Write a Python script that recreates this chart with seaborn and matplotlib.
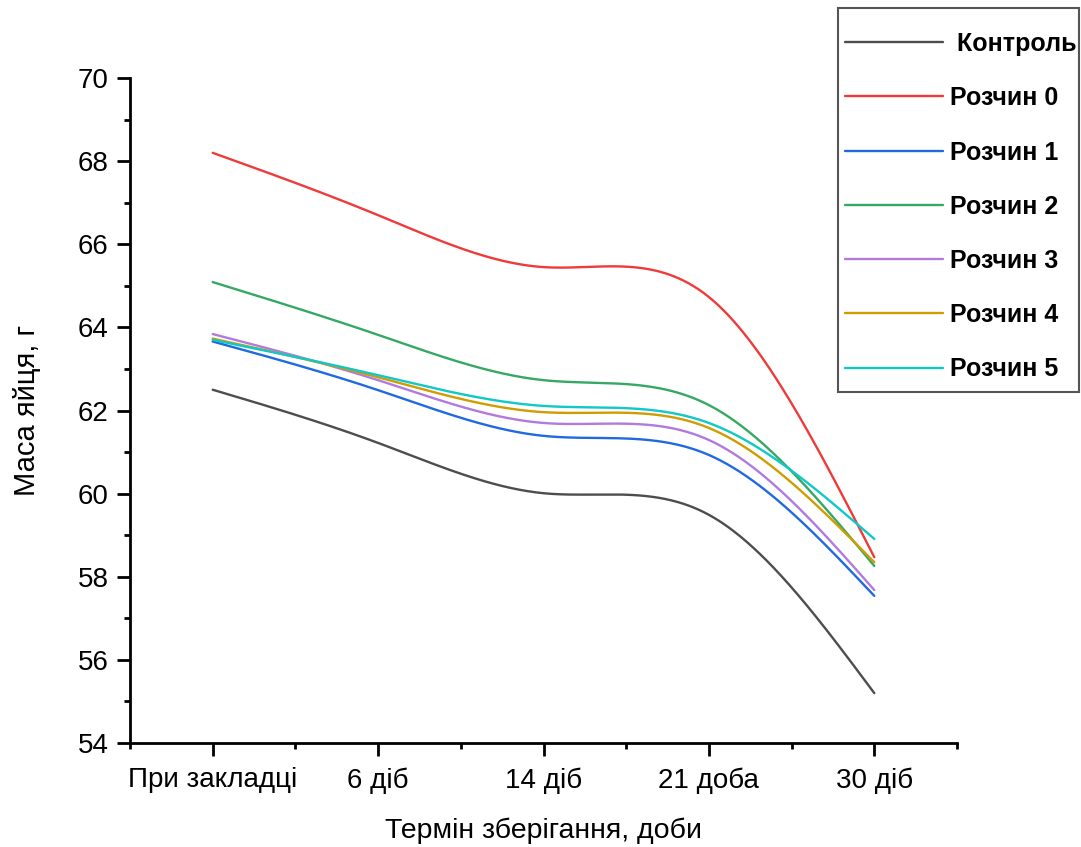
import numpy as np
import pandas as pd
import matplotlib
matplotlib.use("Agg")
import matplotlib.pyplot as plt
import seaborn as sns
from matplotlib.ticker import MultipleLocator
from matplotlib.patches import Rectangle

categories = ["При закладці", "6 діб", "14 діб", "21 доба", "30 діб"]
series_names = ["Контроль", "Розчин 0", "Розчин 1", "Розчин 2", "Розчин 3", "Розчин 4", "Розчин 5"]
control = [62.50, 61.22, 60.01, 59.49, 55.20]
rozchyn0 = [68.20, 66.70, 65.45, 64.73, 58.47]
rozchyn1 = [63.66, 62.49, 61.39, 60.93, 57.54]
rozchyn2 = [65.09, 63.82, 62.73, 62.13, 58.26]
rozchyn3 = [63.84, 62.73, 61.70, 61.29, 57.68]
rozchyn4 = [63.73, 62.80, 61.96, 61.58, 58.35]
rozchyn5 = [63.70, 62.85, 62.11, 61.70, 58.91]
values = [control, rozchyn0, rozchyn1, rozchyn2, rozchyn3, rozchyn4, rozchyn5]
colors = ["#4d4d4d", "#f03a3a", "#1f6ae0", "#35a864", "#b07ae0", "#cf9d00", "#10c8c8"]


def natural_spline(x, y, xs):
    x = np.asarray(x, float)
    y = np.asarray(y, float)
    n = len(x)
    h = np.diff(x)
    A = np.zeros((n, n))
    b = np.zeros(n)
    A[0, 0] = 1
    A[-1, -1] = 1
    for i in range(1, n - 1):
        A[i, i - 1] = h[i - 1]
        A[i, i] = 2 * (h[i - 1] + h[i])
        A[i, i + 1] = h[i]
        b[i] = 6 * ((y[i + 1] - y[i]) / h[i] - (y[i] - y[i - 1]) / h[i - 1])
    M = np.linalg.solve(A, b)
    idx = np.clip(np.searchsorted(x, xs) - 1, 0, n - 2)
    x0, x1 = x[idx], x[idx + 1]
    hh = x1 - x0
    t0 = x1 - xs
    t1 = xs - x0
    return (M[idx] * t0 ** 3 / (6 * hh) + M[idx + 1] * t1 ** 3 / (6 * hh)
            + (y[idx] / hh - M[idx] * hh / 6) * t0
            + (y[idx + 1] / hh - M[idx + 1] * hh / 6) * t1)


xpos = np.arange(len(categories))
xs = np.linspace(0, len(categories) - 1, 400)
frames = []
for name, vals in zip(series_names, values):
    frames.append(pd.DataFrame({"x": xs, "y": natural_spline(xpos, vals, xs), "series": name}))
df = pd.concat(frames, ignore_index=True)

sns.set_style("ticks")
plt.rcParams["font.family"] = ["Liberation Sans", "DejaVu Sans"]
plt.rcParams["text.color"] = "black"
plt.rcParams["axes.labelcolor"] = "black"
plt.rcParams["xtick.color"] = "black"
plt.rcParams["ytick.color"] = "black"

fig = plt.figure(figsize=(10.81, 8.47), dpi=100)
ax = fig.add_axes([130 / 1081, 1 - 743 / 847, (957 - 130) / 1081, (743 - 78) / 847])

sns.lineplot(data=df, x="x", y="y", hue="series", hue_order=series_names,
             palette=colors, linewidth=1.7, ax=ax, legend=False, sort=False)

ax.set_xlim(-0.5, 4.5)
ax.set_ylim(54, 70)
ax.set_xticks(xpos)
ax.set_xticklabels(categories)
ax.xaxis.set_minor_locator(MultipleLocator(0.5))
ax.yaxis.set_major_locator(MultipleLocator(2))
ax.yaxis.set_minor_locator(MultipleLocator(1))
ax.tick_params(axis="both", which="major", direction="out", length=9.5, width=2,
               labelsize=20, colors="black")
ax.tick_params(axis="both", which="minor", direction="out", length=4.5, width=2)
ax.tick_params(axis="x", which="major", pad=8)
ax.tick_params(axis="y", which="major", pad=6)
for s in ["top", "right"]:
    ax.spines[s].set_visible(False)
for s in ["left", "bottom"]:
    ax.spines[s].set_linewidth(2)
    ax.spines[s].set_color("black")

ax.set_xlabel("Термін зберігання, доби", fontsize=20.5)
ax.set_ylabel("Маса яйця, г", fontsize=21)
ax.xaxis.set_label_coords(0.5, -(818 - 743) / 665)
ax.yaxis.set_label_coords((41 - 130) / 827, 0.5)

fig.patches.append(Rectangle((838 / 1081, 1 - 392 / 847), (1079 - 838) / 1081, (392 - 8) / 847,
                             transform=fig.transFigure, fill=False, edgecolor="#555555",
                             linewidth=1.5))

handles = [plt.Line2D([], [], color=c, linewidth=1.7) for c in colors]
labels = [" " + series_names[0]] + series_names[1:]
leg = fig.legend(handles, labels, loc="upper left",
                 bbox_to_anchor=(845 / 1081, 1 - 32 / 847),
                 prop={"weight": "bold", "size": 18}, frameon=False,
                 handlelength=3.9, handletextpad=0.3, labelspacing=1.21,
                 borderpad=0, borderaxespad=0)

fig.savefig("out.png", dpi=100)
